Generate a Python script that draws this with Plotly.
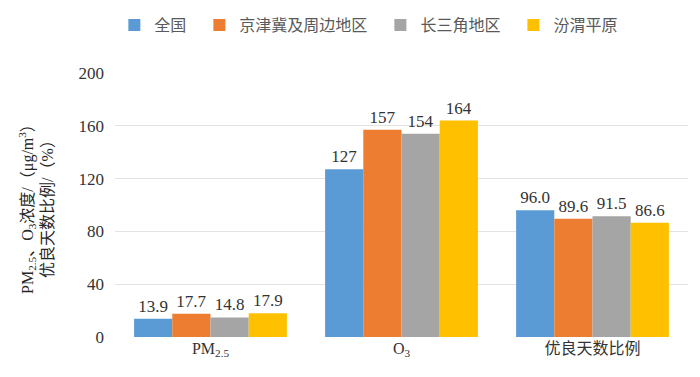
import plotly.graph_objects as go

categories = ["PM<sub>2.5</sub>", "O<sub>3</sub>", "优良天数比例"]
series_names = ["全国", "京津冀及周边地区", "长三角地区", "汾渭平原"]
values = [
    [13.9, 127, 96.0],
    [17.7, 157, 89.6],
    [14.8, 154, 91.5],
    [17.9, 164, 86.6],
]
labels = [
    ["13.9", "127", "96.0"],
    ["17.7", "157", "89.6"],
    ["14.8", "154", "91.5"],
    ["17.9", "164", "86.6"],
]
colors = ["#5B9BD5", "#ED7D31", "#A5A5A5", "#FFC000"]
y_ticks = [0, 40, 80, 120, 160, 200]

FONT = "'Liberation Serif', 'Noto Sans CJK SC', serif"

fig = go.Figure()
for name, vals, txt, c in zip(series_names, values, labels, colors):
    fig.add_trace(go.Bar(
        name=name + "\u00a0\u00a0", x=categories, y=vals, text=txt,
        textposition="outside", cliponaxis=False,
        textfont=dict(family=FONT, size=17, color="#333333"),
        marker=dict(color=c, line=dict(width=0)),
    ))

fig.update_layout(
    width=700, height=377,
    margin=dict(l=107, r=20, t=65, b=48),
    paper_bgcolor="white", plot_bgcolor="white",
    barmode="group", bargap=0.2, bargroupgap=0,
    font=dict(family=FONT, size=15, color="#333333"),
    showlegend=True,
    legend=dict(orientation="h", x=0.45, xanchor="center", xref="paper",
                y=1.0, yref="container", yanchor="top",
                font=dict(family=FONT, size=16, color="#595959"),
                itemwidth=30, traceorder="normal"),
    xaxis=dict(showgrid=False, showline=False, ticks="",
               tickfont=dict(family=FONT, size=16, color="#333333")),
    yaxis=dict(range=[0, 200], tickvals=y_ticks, showgrid=True,
               gridcolor="#E3E3E3", gridwidth=1, zeroline=False,
               showline=False, ticks="", ticklabelstandoff=10,
               tickfont=dict(family=FONT, size=17, color="#333333"),
               title=dict(text="PM<sub>2.5</sub>、O<sub>3</sub>浓度/（μg/m<sup>3</sup>）<br>优良天数比例/（%）",
                          font=dict(family=FONT, size=16, color="#262626"),
                          standoff=20)),
)

fig.write_html("out.html")
